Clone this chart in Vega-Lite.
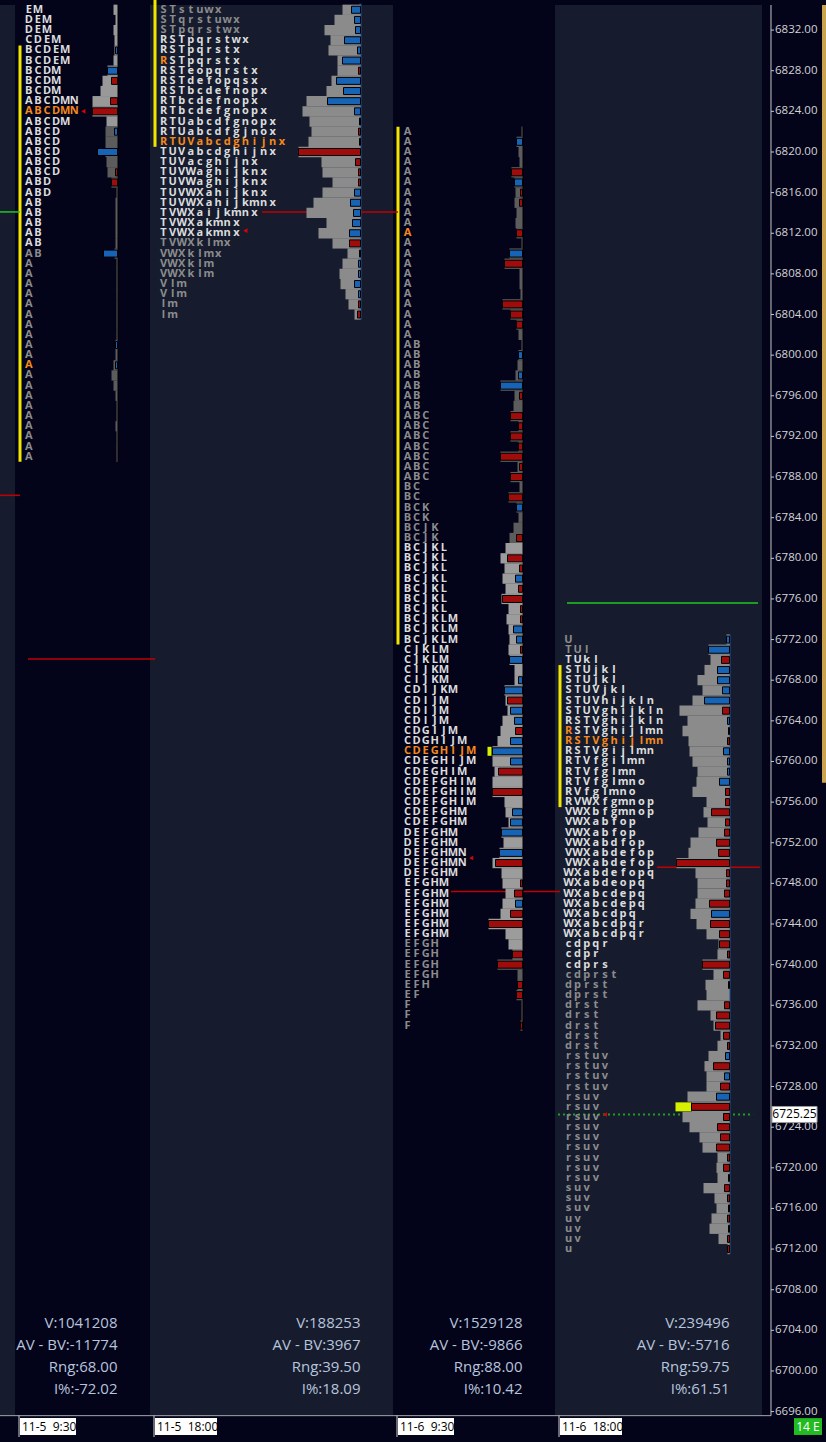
{
"$schema": "https://vega.github.io/schema/vega-lite/v6.json",
"width": 771, "height": 1442,
"autosize": {"type": "none"},
"padding": {"left": 0, "top": 0, "right": 55, "bottom": 0},
"background": "#03031a",
"config": {"view": {"stroke": null}, "font": "Open Sans"},
"datasets": {
"sessions": [
{"i":0,"j":1,"tone":"light"},
{"i":1,"j":2,"tone":"dark","lw":"short","label":"11-5\u00a0 9:30","stats":["V:1041208","AV - BV:-11774","Rng:68.00","I%:-72.02"],"vah":6830,"val":6790,"hi":6834.6,"lo":6789.5,"vh":6840,"vl":6823},
{"i":2,"j":3,"tone":"light","lw":"long","label":"11-5\u00a0 18:00","stats":["V:188253","AV - BV:3967","Rng:39.50","I%:18.09"],"vah":6836,"val":6821,"hi":6834.6,"lo":6803.5,"vh":6840,"vl":6800},
{"i":3,"j":4,"tone":"dark","lw":"short","label":"11-6\u00a0 9:30","stats":["V:1529128","AV - BV:-9866","Rng:88.00","I%:10.42"],"vah":6822,"val":6772,"hi":6822.5,"lo":6733.5,"vh":6781,"vl":6741},
{"i":4,"j":5,"tone":"light","lw":"long","label":"11-6\u00a0 18:00","stats":["V:239496","AV - BV:-5716","Rng:59.75","I%:61.51"],"vah":6769,"val":6756,"hi":6772.5,"lo":6711.5,"vh":6780,"vl":6700}
],
"ticks": [{"p":6696},{"p":6700},{"p":6704},{"p":6708},{"p":6712},{"p":6716},{"p":6720},{"p":6724},{"p":6728},{"p":6732},{"p":6736},{"p":6740},{"p":6744},{"p":6748},{"p":6752},{"p":6756},{"p":6760},{"p":6764},{"p":6768},{"p":6772},{"p":6776},{"p":6780},{"p":6784},{"p":6788},{"p":6792},{"p":6796},{"p":6800},{"p":6804},{"p":6808},{"p":6812},{"p":6816},{"p":6820},{"p":6824},{"p":6828},{"p":6832}],
"lines": [
{"p":6786.2,"x0":0,"x1":1.037,"c":"red"},
{"p":6814.1,"x0":0,"x1":1.037,"c":"green"},
{"p":6770.1,"x0":1.096,"x1":2.021,"c":"red"},
{"p":6814.1,"x0":2.461,"x1":3.031,"c":"red"},
{"p":6747.2,"x0":3.358,"x1":4.024,"c":"red"},
{"p":6749.6,"x0":4.493,"x1":4.99,"c":"red"},
{"p":6775.6,"x0":4.058,"x1":4.981,"c":"green"}
],
"last": [{"p":6725.25}],
"close": [
{"s":1,"p":6824,"c":7},
{"s":2,"p":6812.25,"c":10},
{"s":3,"p":6750.5,"c":8},
{"s":4,"p":6725.25,"c":5}
],
"vpoc": [
{"s":3,"p":6761,"v0":31,"v1":35},
{"s":4,"p":6726,"v0":38.5,"v1":54}
],
"tpo": [
{"s":1,"p":6834,"k":"hi","t":["E","M"]},
{"s":1,"p":6833,"k":"hi","t":["D","E","M"]},
{"s":1,"p":6832,"k":"hi","t":["D","E","M"]},
{"s":1,"p":6831,"k":"hi","t":["C","D","E","M"]},
{"s":1,"p":6830,"k":"hi","t":["B","C","D","E","M"]},
{"s":1,"p":6829,"k":"hi","t":["B","C","D","E","M"]},
{"s":1,"p":6828,"k":"hi","t":["B","C","D","M"]},
{"s":1,"p":6827,"k":"hi","t":["B","C","D","M"]},
{"s":1,"p":6826,"k":"hi","t":["B","C","D","M"]},
{"s":1,"p":6825,"k":"hi","t":["A","B","C","D","M","N"]},
{"s":1,"p":6824,"k":"poc","t":["A","B","C","D","M","N"]},
{"s":1,"p":6823,"k":"hi","t":["A","B","C","D","M"]},
{"s":1,"p":6822,"k":"hi","t":["A","B","C","D"]},
{"s":1,"p":6821,"k":"hi","t":["A","B","C","D"]},
{"s":1,"p":6820,"k":"hi","t":["A","B","C","D"]},
{"s":1,"p":6819,"k":"hi","t":["A","B","C","D"]},
{"s":1,"p":6818,"k":"hi","t":["A","B","C","D"]},
{"s":1,"p":6817,"k":"hi","t":["A","B","D"]},
{"s":1,"p":6816,"k":"hi","t":["A","B","D"]},
{"s":1,"p":6815,"k":"hi","t":["A","B"]},
{"s":1,"p":6814,"k":"hi","t":["A","B"]},
{"s":1,"p":6813,"k":"hi","t":["A","B"]},
{"s":1,"p":6812,"k":"hi","t":["A","B"]},
{"s":1,"p":6811,"k":"hi","t":["A","B"]},
{"s":1,"p":6810,"k":"lo","t":["A","B"]},
{"s":1,"p":6809,"k":"lo","t":["A"]},
{"s":1,"p":6808,"k":"lo","t":["A"]},
{"s":1,"p":6807,"k":"lo","t":["A"]},
{"s":1,"p":6806,"k":"lo","t":["A"]},
{"s":1,"p":6805,"k":"lo","t":["A"]},
{"s":1,"p":6804,"k":"lo","t":["A"]},
{"s":1,"p":6803,"k":"lo","t":["A"]},
{"s":1,"p":6802,"k":"lo","t":["A"]},
{"s":1,"p":6801,"k":"lo","t":["A"]},
{"s":1,"p":6800,"k":"lo","t":["A"]},
{"s":1,"p":6799,"k":"poc","t":["A"]},
{"s":1,"p":6798,"k":"lo","t":["A"]},
{"s":1,"p":6797,"k":"lo","t":["A"]},
{"s":1,"p":6796,"k":"lo","t":["A"]},
{"s":1,"p":6795,"k":"lo","t":["A"]},
{"s":1,"p":6794,"k":"lo","t":["A"]},
{"s":1,"p":6793,"k":"lo","t":["A"]},
{"s":1,"p":6792,"k":"lo","t":["A"]},
{"s":1,"p":6791,"k":"lo","t":["A"]},
{"s":1,"p":6790,"k":"lo","t":["A"]},
{"s":2,"p":6834,"k":"lo","t":["S","T","s","t","u","w","x"]},
{"s":2,"p":6833,"k":"lo","t":["S","T","q","r","s","t","u","w","x"]},
{"s":2,"p":6832,"k":"lo","t":["S","T","p","q","r","s","t","w","x"]},
{"s":2,"p":6831,"k":"hi","t":["R","S","T","p","q","r","s","t","w","x"]},
{"s":2,"p":6830,"k":"hi","t":["R","S","T","p","q","r","s","t","x"]},
{"s":2,"p":6829,"k":"op","t":["R","S","T","p","q","r","s","t","x"]},
{"s":2,"p":6828,"k":"hi","t":["R","S","T","e","o","p","q","r","s","t","x"]},
{"s":2,"p":6827,"k":"hi","t":["R","S","T","d","e","f","o","p","q","s","x"]},
{"s":2,"p":6826,"k":"hi","t":["R","S","T","b","c","d","e","f","n","o","p","x"]},
{"s":2,"p":6825,"k":"hi","t":["R","T","b","c","d","e","f","n","o","p","x"]},
{"s":2,"p":6824,"k":"hi","t":["R","T","b","c","d","e","f","g","n","o","p","x"]},
{"s":2,"p":6823,"k":"hi","t":["R","T","U","a","b","c","d","f","g","n","o","p","x"]},
{"s":2,"p":6822,"k":"hi","t":["R","T","U","a","b","c","d","f","g","j","n","o","x"]},
{"s":2,"p":6821,"k":"poc","t":["R","T","U","V","a","b","c","d","g","h","i","j","n","x"]},
{"s":2,"p":6820,"k":"hi","t":["T","U","V","a","b","c","d","g","h","i","j","n","x"]},
{"s":2,"p":6819,"k":"hi","t":["T","U","V","a","c","g","h","i","j","n","x"]},
{"s":2,"p":6818,"k":"hi","t":["T","U","V","W","a","g","h","i","j","k","n","x"]},
{"s":2,"p":6817,"k":"hi","t":["T","U","V","W","a","g","h","i","j","k","n","x"]},
{"s":2,"p":6816,"k":"hi","t":["T","U","V","W","X","a","h","i","j","k","n","x"]},
{"s":2,"p":6815,"k":"hi","t":["T","U","V","W","X","a","h","i","j","k","m","n","x"]},
{"s":2,"p":6814,"k":"hi","t":["T","V","W","X","a","i","j","k","m","n","x"]},
{"s":2,"p":6813,"k":"hi","t":["T","V","W","X","a","k","m","n","x"]},
{"s":2,"p":6812,"k":"hi","t":["T","V","W","X","a","k","m","n","x"]},
{"s":2,"p":6811,"k":"lo","t":["T","V","W","X","k","l","m","x"]},
{"s":2,"p":6810,"k":"lo","t":["V","W","X","k","l","m","x"]},
{"s":2,"p":6809,"k":"lo","t":["V","W","X","k","l","m"]},
{"s":2,"p":6808,"k":"lo","t":["V","W","X","k","l","m"]},
{"s":2,"p":6807,"k":"lo","t":["V","l","m"]},
{"s":2,"p":6806,"k":"lo","t":["V","l","m"]},
{"s":2,"p":6805,"k":"lo","t":["l","m"]},
{"s":2,"p":6804,"k":"lo","t":["l","m"]},
{"s":3,"p":6822,"k":"lo","t":["A"]},
{"s":3,"p":6821,"k":"lo","t":["A"]},
{"s":3,"p":6820,"k":"lo","t":["A"]},
{"s":3,"p":6819,"k":"lo","t":["A"]},
{"s":3,"p":6818,"k":"lo","t":["A"]},
{"s":3,"p":6817,"k":"lo","t":["A"]},
{"s":3,"p":6816,"k":"lo","t":["A"]},
{"s":3,"p":6815,"k":"lo","t":["A"]},
{"s":3,"p":6814,"k":"lo","t":["A"]},
{"s":3,"p":6813,"k":"lo","t":["A"]},
{"s":3,"p":6812,"k":"poc","t":["A"]},
{"s":3,"p":6811,"k":"lo","t":["A"]},
{"s":3,"p":6810,"k":"lo","t":["A"]},
{"s":3,"p":6809,"k":"lo","t":["A"]},
{"s":3,"p":6808,"k":"lo","t":["A"]},
{"s":3,"p":6807,"k":"lo","t":["A"]},
{"s":3,"p":6806,"k":"lo","t":["A"]},
{"s":3,"p":6805,"k":"lo","t":["A"]},
{"s":3,"p":6804,"k":"lo","t":["A"]},
{"s":3,"p":6803,"k":"lo","t":["A"]},
{"s":3,"p":6802,"k":"lo","t":["A"]},
{"s":3,"p":6801,"k":"lo","t":["A","B"]},
{"s":3,"p":6800,"k":"lo","t":["A","B"]},
{"s":3,"p":6799,"k":"lo","t":["A","B"]},
{"s":3,"p":6798,"k":"lo","t":["A","B"]},
{"s":3,"p":6797,"k":"lo","t":["A","B"]},
{"s":3,"p":6796,"k":"lo","t":["A","B"]},
{"s":3,"p":6795,"k":"lo","t":["A","B"]},
{"s":3,"p":6794,"k":"lo","t":["A","B","C"]},
{"s":3,"p":6793,"k":"lo","t":["A","B","C"]},
{"s":3,"p":6792,"k":"lo","t":["A","B","C"]},
{"s":3,"p":6791,"k":"lo","t":["A","B","C"]},
{"s":3,"p":6790,"k":"lo","t":["A","B","C"]},
{"s":3,"p":6789,"k":"lo","t":["A","B","C"]},
{"s":3,"p":6788,"k":"lo","t":["A","B","C"]},
{"s":3,"p":6787,"k":"lo","t":["B","C"]},
{"s":3,"p":6786,"k":"lo","t":["B","C"]},
{"s":3,"p":6785,"k":"lo","t":["B","C","K"]},
{"s":3,"p":6784,"k":"lo","t":["B","C","K"]},
{"s":3,"p":6783,"k":"lo","t":["B","C","J","K"]},
{"s":3,"p":6782,"k":"lo","t":["B","C","J","K"]},
{"s":3,"p":6781,"k":"hi","t":["B","C","J","K","L"]},
{"s":3,"p":6780,"k":"hi","t":["B","C","J","K","L"]},
{"s":3,"p":6779,"k":"hi","t":["B","C","J","K","L"]},
{"s":3,"p":6778,"k":"hi","t":["B","C","J","K","L"]},
{"s":3,"p":6777,"k":"hi","t":["B","C","J","K","L"]},
{"s":3,"p":6776,"k":"hi","t":["B","C","J","K","L"]},
{"s":3,"p":6775,"k":"hi","t":["B","C","J","K","L"]},
{"s":3,"p":6774,"k":"hi","t":["B","C","J","K","L","M"]},
{"s":3,"p":6773,"k":"hi","t":["B","C","J","K","L","M"]},
{"s":3,"p":6772,"k":"hi","t":["B","C","J","K","L","M"]},
{"s":3,"p":6771,"k":"hi","t":["C","J","K","L","M"]},
{"s":3,"p":6770,"k":"hi","t":["C","J","K","L","M"]},
{"s":3,"p":6769,"k":"hi","t":["C","I","J","K","M"]},
{"s":3,"p":6768,"k":"hi","t":["C","I","J","K","M"]},
{"s":3,"p":6767,"k":"hi","t":["C","D","I","J","K","M"]},
{"s":3,"p":6766,"k":"hi","t":["C","D","I","J","M"]},
{"s":3,"p":6765,"k":"hi","t":["C","D","I","J","M"]},
{"s":3,"p":6764,"k":"hi","t":["C","D","I","J","M"]},
{"s":3,"p":6763,"k":"hi","t":["C","D","G","I","J","M"]},
{"s":3,"p":6762,"k":"hi","t":["C","D","G","H","I","J","M"]},
{"s":3,"p":6761,"k":"poc","t":["C","D","E","G","H","I","J","M"]},
{"s":3,"p":6760,"k":"hi","t":["C","D","E","G","H","I","J","M"]},
{"s":3,"p":6759,"k":"hi","t":["C","D","E","G","H","I","M"]},
{"s":3,"p":6758,"k":"hi","t":["C","D","E","F","G","H","I","M"]},
{"s":3,"p":6757,"k":"hi","t":["C","D","E","F","G","H","I","M"]},
{"s":3,"p":6756,"k":"hi","t":["C","D","E","F","G","H","I","M"]},
{"s":3,"p":6755,"k":"hi","t":["C","D","E","F","G","H","M"]},
{"s":3,"p":6754,"k":"hi","t":["C","D","E","F","G","H","M"]},
{"s":3,"p":6753,"k":"hi","t":["D","E","F","G","H","M"]},
{"s":3,"p":6752,"k":"hi","t":["D","E","F","G","H","M"]},
{"s":3,"p":6751,"k":"hi","t":["D","E","F","G","H","M","N"]},
{"s":3,"p":6750,"k":"hi","t":["D","E","F","G","H","M","N"]},
{"s":3,"p":6749,"k":"hi","t":["D","E","F","G","H","M"]},
{"s":3,"p":6748,"k":"hi","t":["E","F","G","H","M"]},
{"s":3,"p":6747,"k":"hi","t":["E","F","G","H","M"]},
{"s":3,"p":6746,"k":"hi","t":["E","F","G","H","M"]},
{"s":3,"p":6745,"k":"hi","t":["E","F","G","H","M"]},
{"s":3,"p":6744,"k":"hi","t":["E","F","G","H","M"]},
{"s":3,"p":6743,"k":"hi","t":["E","F","G","H","M"]},
{"s":3,"p":6742,"k":"lo","t":["E","F","G","H"]},
{"s":3,"p":6741,"k":"lo","t":["E","F","G","H"]},
{"s":3,"p":6740,"k":"lo","t":["E","F","G","H"]},
{"s":3,"p":6739,"k":"lo","t":["E","F","G","H"]},
{"s":3,"p":6738,"k":"lo","t":["E","F","H"]},
{"s":3,"p":6737,"k":"lo","t":["E","F"]},
{"s":3,"p":6736,"k":"lo","t":["F"]},
{"s":3,"p":6735,"k":"lo","t":["F"]},
{"s":3,"p":6734,"k":"lo","t":["F"]},
{"s":4,"p":6772,"k":"lo","t":["U"]},
{"s":4,"p":6771,"k":"lo","t":["T","U","l"]},
{"s":4,"p":6770,"k":"hi","t":["T","U","k","l"]},
{"s":4,"p":6769,"k":"hi","t":["S","T","U","j","k","l"]},
{"s":4,"p":6768,"k":"hi","t":["S","T","U","j","k","l"]},
{"s":4,"p":6767,"k":"hi","t":["S","T","U","V","j","k","l"]},
{"s":4,"p":6766,"k":"hi","t":["S","T","U","V","h","i","j","k","l","n"]},
{"s":4,"p":6765,"k":"hi","t":["S","T","U","V","g","h","i","j","k","l","n"]},
{"s":4,"p":6764,"k":"hi","t":["R","S","T","V","g","h","i","j","k","l","n"]},
{"s":4,"p":6763,"k":"op","t":["R","S","T","V","g","h","i","j","l","m","n"]},
{"s":4,"p":6762,"k":"poc","t":["R","S","T","V","g","h","i","j","l","m","n"]},
{"s":4,"p":6761,"k":"hi","t":["R","S","T","V","g","i","j","l","m","n"]},
{"s":4,"p":6760,"k":"hi","t":["R","T","V","f","g","i","l","m","n"]},
{"s":4,"p":6759,"k":"hi","t":["R","T","V","f","g","l","m","n"]},
{"s":4,"p":6758,"k":"hi","t":["R","T","V","f","g","l","m","n","o"]},
{"s":4,"p":6757,"k":"hi","t":["R","V","f","g","l","m","n","o"]},
{"s":4,"p":6756,"k":"hi","t":["R","V","W","X","f","g","m","n","o","p"]},
{"s":4,"p":6755,"k":"hi","t":["V","W","X","b","f","g","m","n","o","p"]},
{"s":4,"p":6754,"k":"hi","t":["V","W","X","a","b","f","o","p"]},
{"s":4,"p":6753,"k":"hi","t":["V","W","X","a","b","f","o","p"]},
{"s":4,"p":6752,"k":"hi","t":["V","W","X","a","b","d","f","o","p"]},
{"s":4,"p":6751,"k":"hi","t":["V","W","X","a","b","d","e","f","o","p"]},
{"s":4,"p":6750,"k":"hi","t":["V","W","X","a","b","d","e","f","o","p"]},
{"s":4,"p":6749,"k":"hi","t":["W","X","a","b","d","e","f","o","p","q"]},
{"s":4,"p":6748,"k":"hi","t":["W","X","a","b","d","e","o","p","q"]},
{"s":4,"p":6747,"k":"hi","t":["W","X","a","b","c","d","e","p","q"]},
{"s":4,"p":6746,"k":"hi","t":["W","X","a","b","c","d","e","p","q"]},
{"s":4,"p":6745,"k":"hi","t":["W","X","a","b","c","d","p","q"]},
{"s":4,"p":6744,"k":"hi","t":["W","X","a","b","c","d","p","q","r"]},
{"s":4,"p":6743,"k":"hi","t":["W","X","a","b","c","d","p","q","r"]},
{"s":4,"p":6742,"k":"hi","t":["c","d","p","q","r"]},
{"s":4,"p":6741,"k":"hi","t":["c","d","p","r"]},
{"s":4,"p":6740,"k":"hi","t":["c","d","p","r","s"]},
{"s":4,"p":6739,"k":"lo","t":["c","d","p","r","s","t"]},
{"s":4,"p":6738,"k":"lo","t":["d","p","r","s","t"]},
{"s":4,"p":6737,"k":"lo","t":["d","p","r","s","t"]},
{"s":4,"p":6736,"k":"lo","t":["d","r","s","t"]},
{"s":4,"p":6735,"k":"lo","t":["d","r","s","t"]},
{"s":4,"p":6734,"k":"lo","t":["d","r","s","t"]},
{"s":4,"p":6733,"k":"lo","t":["d","r","s","t"]},
{"s":4,"p":6732,"k":"lo","t":["d","r","s","t"]},
{"s":4,"p":6731,"k":"lo","t":["r","s","t","u","v"]},
{"s":4,"p":6730,"k":"lo","t":["r","s","t","u","v"]},
{"s":4,"p":6729,"k":"lo","t":["r","s","t","u","v"]},
{"s":4,"p":6728,"k":"lo","t":["r","s","t","u","v"]},
{"s":4,"p":6727,"k":"lo","t":["r","s","u","v"]},
{"s":4,"p":6726,"k":"lo","t":["r","s","u","v"]},
{"s":4,"p":6725,"k":"lo","t":["r","s","u","v"]},
{"s":4,"p":6724,"k":"lo","t":["r","s","u","v"]},
{"s":4,"p":6723,"k":"lo","t":["r","s","u","v"]},
{"s":4,"p":6722,"k":"lo","t":["r","s","u","v"]},
{"s":4,"p":6721,"k":"lo","t":["r","s","u","v"]},
{"s":4,"p":6720,"k":"lo","t":["r","s","u","v"]},
{"s":4,"p":6719,"k":"lo","t":["r","s","u","v"]},
{"s":4,"p":6718,"k":"lo","t":["s","u","v"]},
{"s":4,"p":6717,"k":"lo","t":["s","u","v"]},
{"s":4,"p":6716,"k":"lo","t":["s","u","v"]},
{"s":4,"p":6715,"k":"lo","t":["u","v"]},
{"s":4,"p":6714,"k":"lo","t":["u","v"]},
{"s":4,"p":6713,"k":"lo","t":["u","v"]},
{"s":4,"p":6712,"k":"lo","t":["u"]}
],
"vol": [
{"s":1,"p":6834,"v":4},{"s":1,"p":6833,"v":2},{"s":1,"p":6832,"v":4},{"s":1,"p":6831,"v":3},{"s":1,"p":6830,"v":3},{"s":1,"p":6829,"v":4},{"s":1,"p":6828,"v":10},{"s":1,"p":6827,"v":15},{"s":1,"p":6826,"v":17},{"s":1,"p":6825,"v":25},{"s":1,"p":6824,"v":25},{"s":1,"p":6823,"v":11},{"s":1,"p":6822,"v":12},{"s":1,"p":6821,"v":12},{"s":1,"p":6820,"v":12},{"s":1,"p":6819,"v":11},{"s":1,"p":6818,"v":10},{"s":1,"p":6817,"v":6},{"s":1,"p":6816,"v":1},{"s":1,"p":6815,"v":2},{"s":1,"p":6814,"v":2},{"s":1,"p":6813,"v":2},{"s":1,"p":6812,"v":2},{"s":1,"p":6811,"v":2},{"s":1,"p":6810,"v":3},{"s":1,"p":6809,"v":1},{"s":1,"p":6808,"v":1},{"s":1,"p":6807,"v":1},{"s":1,"p":6806,"v":1},{"s":1,"p":6805,"v":1},{"s":1,"p":6804,"v":1},{"s":1,"p":6803,"v":1},{"s":1,"p":6802,"v":1},{"s":1,"p":6801,"v":2},{"s":1,"p":6800,"v":2},{"s":1,"p":6799,"v":4},{"s":1,"p":6798,"v":6},{"s":1,"p":6797,"v":4},{"s":1,"p":6796,"v":2},{"s":1,"p":6795,"v":1},{"s":1,"p":6794,"v":1},{"s":1,"p":6793,"v":2},{"s":1,"p":6792,"v":1},{"s":1,"p":6791,"v":1},{"s":1,"p":6790,"v":1},
{"s":2,"p":6834,"v":18},{"s":2,"p":6833,"v":26},{"s":2,"p":6832,"v":36},{"s":2,"p":6831,"v":30},{"s":2,"p":6830,"v":32},{"s":2,"p":6829,"v":23},{"s":2,"p":6828,"v":23},{"s":2,"p":6827,"v":29},{"s":2,"p":6826,"v":34},{"s":2,"p":6825,"v":54},{"s":2,"p":6824,"v":58},{"s":2,"p":6823,"v":51},{"s":2,"p":6822,"v":49},{"s":2,"p":6821,"v":52},{"s":2,"p":6820,"v":62},{"s":2,"p":6819,"v":39},{"s":2,"p":6818,"v":38},{"s":2,"p":6817,"v":28},{"s":2,"p":6816,"v":38},{"s":2,"p":6815,"v":47},{"s":2,"p":6814,"v":54},{"s":2,"p":6813,"v":34},{"s":2,"p":6812,"v":42},{"s":2,"p":6811,"v":28},{"s":2,"p":6810,"v":13},{"s":2,"p":6809,"v":18},{"s":2,"p":6808,"v":21},{"s":2,"p":6807,"v":20},{"s":2,"p":6806,"v":15},{"s":2,"p":6805,"v":12},{"s":2,"p":6804,"v":6},
{"s":3,"p":6822,"v":1},{"s":3,"p":6821,"v":6},{"s":3,"p":6820,"v":4},{"s":3,"p":6819,"v":3},{"s":3,"p":6818,"v":11},{"s":3,"p":6817,"v":8},{"s":3,"p":6816,"v":7},{"s":3,"p":6815,"v":8},{"s":3,"p":6814,"v":6},{"s":3,"p":6813,"v":7},{"s":3,"p":6812,"v":6},{"s":3,"p":6811,"v":1},{"s":3,"p":6810,"v":13},{"s":3,"p":6809,"v":18},{"s":3,"p":6808,"v":3},{"s":3,"p":6807,"v":3},{"s":3,"p":6806,"v":2},{"s":3,"p":6805,"v":20},{"s":3,"p":6804,"v":12},{"s":3,"p":6803,"v":6},{"s":3,"p":6802,"v":4},{"s":3,"p":6801,"v":1},{"s":3,"p":6800,"v":4},{"s":3,"p":6799,"v":5},{"s":3,"p":6798,"v":7},{"s":3,"p":6797,"v":22},{"s":3,"p":6796,"v":8},{"s":3,"p":6795,"v":9},{"s":3,"p":6794,"v":12},{"s":3,"p":6793,"v":4},{"s":3,"p":6792,"v":12},{"s":3,"p":6791,"v":4},{"s":3,"p":6790,"v":22},{"s":3,"p":6789,"v":5},{"s":3,"p":6788,"v":12},{"s":3,"p":6787,"v":3},{"s":3,"p":6786,"v":14},{"s":3,"p":6785,"v":6},{"s":3,"p":6784,"v":4},{"s":3,"p":6783,"v":9},{"s":3,"p":6782,"v":13},{"s":3,"p":6781,"v":17},{"s":3,"p":6780,"v":22},{"s":3,"p":6779,"v":18},{"s":3,"p":6778,"v":20},{"s":3,"p":6777,"v":17},{"s":3,"p":6776,"v":21},{"s":3,"p":6775,"v":14},{"s":3,"p":6774,"v":16},{"s":3,"p":6773,"v":14},{"s":3,"p":6772,"v":13},{"s":3,"p":6771,"v":14},{"s":3,"p":6770,"v":13},{"s":3,"p":6769,"v":8},{"s":3,"p":6768,"v":8},{"s":3,"p":6767,"v":18},{"s":3,"p":6766,"v":17},{"s":3,"p":6765,"v":15},{"s":3,"p":6764,"v":20},{"s":3,"p":6763,"v":22},{"s":3,"p":6762,"v":25},{"s":3,"p":6761,"v":30},{"s":3,"p":6760,"v":30},{"s":3,"p":6759,"v":28},{"s":3,"p":6758,"v":30},{"s":3,"p":6757,"v":30},{"s":3,"p":6756,"v":18},{"s":3,"p":6755,"v":17},{"s":3,"p":6754,"v":14},{"s":3,"p":6753,"v":21},{"s":3,"p":6752,"v":19},{"s":3,"p":6751,"v":23},{"s":3,"p":6750,"v":30},{"s":3,"p":6749,"v":21},{"s":3,"p":6748,"v":20},{"s":3,"p":6747,"v":17},{"s":3,"p":6746,"v":20},{"s":3,"p":6745,"v":22},{"s":3,"p":6744,"v":34},{"s":3,"p":6743,"v":17},{"s":3,"p":6742,"v":14},{"s":3,"p":6741,"v":10},{"s":3,"p":6740,"v":25},{"s":3,"p":6739,"v":5},{"s":3,"p":6738,"v":5},{"s":3,"p":6737,"v":6},{"s":3,"p":6736,"v":1},{"s":3,"p":6735,"v":1},{"s":3,"p":6734,"v":2},
{"s":4,"p":6772,"v":3},{"s":4,"p":6771,"v":21},{"s":4,"p":6770,"v":19},{"s":4,"p":6769,"v":25},{"s":4,"p":6768,"v":32},{"s":4,"p":6767,"v":27},{"s":4,"p":6766,"v":37},{"s":4,"p":6765,"v":50},{"s":4,"p":6764,"v":42},{"s":4,"p":6763,"v":47},{"s":4,"p":6762,"v":41},{"s":4,"p":6761,"v":40},{"s":4,"p":6760,"v":37},{"s":4,"p":6759,"v":32},{"s":4,"p":6758,"v":33},{"s":4,"p":6757,"v":37},{"s":4,"p":6756,"v":23},{"s":4,"p":6755,"v":26},{"s":4,"p":6754,"v":22},{"s":4,"p":6753,"v":31},{"s":4,"p":6752,"v":39},{"s":4,"p":6751,"v":41},{"s":4,"p":6750,"v":53},{"s":4,"p":6749,"v":34},{"s":4,"p":6748,"v":32},{"s":4,"p":6747,"v":32},{"s":4,"p":6746,"v":34},{"s":4,"p":6745,"v":39},{"s":4,"p":6744,"v":33},{"s":4,"p":6743,"v":23},{"s":4,"p":6742,"v":11},{"s":4,"p":6741,"v":12},{"s":4,"p":6740,"v":27},{"s":4,"p":6739,"v":16},{"s":4,"p":6738,"v":24},{"s":4,"p":6737,"v":23},{"s":4,"p":6736,"v":32},{"s":4,"p":6735,"v":19},{"s":4,"p":6734,"v":16},{"s":4,"p":6733,"v":9},{"s":4,"p":6732,"v":12},{"s":4,"p":6731,"v":21},{"s":4,"p":6730,"v":25},{"s":4,"p":6729,"v":23},{"s":4,"p":6728,"v":23},{"s":4,"p":6727,"v":42},{"s":4,"p":6726,"v":38},{"s":4,"p":6725,"v":47},{"s":4,"p":6724,"v":40},{"s":4,"p":6723,"v":30},{"s":4,"p":6722,"v":27},{"s":4,"p":6721,"v":12},{"s":4,"p":6720,"v":13},{"s":4,"p":6719,"v":12},{"s":4,"p":6718,"v":26},{"s":4,"p":6717,"v":15},{"s":4,"p":6716,"v":13},{"s":4,"p":6715,"v":18},{"s":4,"p":6714,"v":20},{"s":4,"p":6713,"v":11},{"s":4,"p":6712,"v":2}
],
"delta": [
{"s":1,"p":6830,"d":2,"side":"b"},{"s":1,"p":6828,"d":10,"side":"b"},{"s":1,"p":6827,"d":6,"side":"s"},{"s":1,"p":6825,"d":7,"side":"s"},{"s":1,"p":6824,"d":25,"side":"s"},{"s":1,"p":6822,"d":3,"side":"b"},{"s":1,"p":6820,"d":20,"side":"b"},{"s":1,"p":6818,"d":2,"side":"s"},{"s":1,"p":6817,"d":6,"side":"s"},{"s":1,"p":6810,"d":14,"side":"b"},{"s":1,"p":6801,"d":2,"side":"b"},{"s":1,"p":6799,"d":2,"side":"b"},
{"s":2,"p":6834,"d":9,"side":"b"},{"s":2,"p":6833,"d":6,"side":"b"},{"s":2,"p":6832,"d":5,"side":"b"},{"s":2,"p":6831,"d":16,"side":"b"},{"s":2,"p":6830,"d":3,"side":"b"},{"s":2,"p":6829,"d":18,"side":"b"},{"s":2,"p":6828,"d":2,"side":"s"},{"s":2,"p":6827,"d":24,"side":"b"},{"s":2,"p":6826,"d":17,"side":"b"},{"s":2,"p":6825,"d":33,"side":"b"},{"s":2,"p":6824,"d":6,"side":"b"},{"s":2,"p":6823,"d":1,"side":"s"},{"s":2,"p":6822,"d":2,"side":"s"},{"s":2,"p":6821,"d":1,"side":"b"},{"s":2,"p":6820,"d":62,"side":"s"},{"s":2,"p":6819,"d":5,"side":"s"},{"s":2,"p":6818,"d":2,"side":"s"},{"s":2,"p":6817,"d":2,"side":"s"},{"s":2,"p":6816,"d":6,"side":"b"},{"s":2,"p":6815,"d":10,"side":"b"},{"s":2,"p":6814,"d":7,"side":"b"},{"s":2,"p":6813,"d":8,"side":"b"},{"s":2,"p":6812,"d":11,"side":"b"},{"s":2,"p":6811,"d":11,"side":"s"},{"s":2,"p":6810,"d":1,"side":"b"},{"s":2,"p":6809,"d":2,"side":"b"},{"s":2,"p":6808,"d":2,"side":"b"},{"s":2,"p":6807,"d":6,"side":"b"},{"s":2,"p":6806,"d":2,"side":"b"},{"s":2,"p":6805,"d":2,"side":"s"},{"s":2,"p":6804,"d":3,"side":"s"},
{"s":3,"p":6821,"d":6,"side":"b"},{"s":3,"p":6818,"d":11,"side":"s"},{"s":3,"p":6817,"d":8,"side":"b"},{"s":3,"p":6816,"d":2,"side":"s"},{"s":3,"p":6815,"d":3,"side":"s"},{"s":3,"p":6812,"d":6,"side":"s"},{"s":3,"p":6810,"d":13,"side":"b"},{"s":3,"p":6809,"d":18,"side":"s"},{"s":3,"p":6805,"d":20,"side":"s"},{"s":3,"p":6804,"d":12,"side":"s"},{"s":3,"p":6803,"d":6,"side":"s"},{"s":3,"p":6800,"d":4,"side":"b"},{"s":3,"p":6798,"d":4,"side":"b"},{"s":3,"p":6797,"d":22,"side":"b"},{"s":3,"p":6796,"d":3,"side":"s"},{"s":3,"p":6794,"d":12,"side":"s"},{"s":3,"p":6793,"d":4,"side":"s"},{"s":3,"p":6792,"d":12,"side":"s"},{"s":3,"p":6791,"d":4,"side":"s"},{"s":3,"p":6790,"d":22,"side":"s"},{"s":3,"p":6789,"d":3,"side":"s"},{"s":3,"p":6788,"d":12,"side":"s"},{"s":3,"p":6786,"d":14,"side":"s"},{"s":3,"p":6785,"d":6,"side":"b"},{"s":3,"p":6782,"d":6,"side":"s"},{"s":3,"p":6780,"d":15,"side":"s"},{"s":3,"p":6779,"d":3,"side":"s"},{"s":3,"p":6778,"d":7,"side":"b"},{"s":3,"p":6777,"d":4,"side":"s"},{"s":3,"p":6776,"d":20,"side":"s"},{"s":3,"p":6775,"d":2,"side":"s"},{"s":3,"p":6774,"d":2,"side":"s"},{"s":3,"p":6773,"d":9,"side":"b"},{"s":3,"p":6772,"d":6,"side":"b"},{"s":3,"p":6771,"d":2,"side":"s"},{"s":3,"p":6770,"d":13,"side":"b"},{"s":3,"p":6768,"d":4,"side":"b"},{"s":3,"p":6767,"d":18,"side":"b"},{"s":3,"p":6766,"d":15,"side":"s"},{"s":3,"p":6765,"d":12,"side":"b"},{"s":3,"p":6764,"d":8,"side":"b"},{"s":3,"p":6763,"d":7,"side":"s"},{"s":3,"p":6762,"d":12,"side":"b"},{"s":3,"p":6761,"d":30,"side":"b"},{"s":3,"p":6760,"d":12,"side":"b"},{"s":3,"p":6759,"d":24,"side":"s"},{"s":3,"p":6757,"d":30,"side":"s"},{"s":3,"p":6755,"d":10,"side":"b"},{"s":3,"p":6754,"d":12,"side":"b"},{"s":3,"p":6753,"d":21,"side":"b"},{"s":3,"p":6751,"d":23,"side":"b"},{"s":3,"p":6750,"d":27,"side":"s"},{"s":3,"p":6748,"d":2,"side":"s"},{"s":3,"p":6747,"d":8,"side":"s"},{"s":3,"p":6746,"d":7,"side":"b"},{"s":3,"p":6745,"d":12,"side":"s"},{"s":3,"p":6744,"d":34,"side":"s"},{"s":3,"p":6741,"d":10,"side":"s"},{"s":3,"p":6740,"d":25,"side":"s"},{"s":3,"p":6738,"d":5,"side":"s"},{"s":3,"p":6737,"d":6,"side":"s"},{"s":3,"p":6734,"d":2,"side":"s"},
{"s":4,"p":6772,"d":3,"side":"b"},{"s":4,"p":6771,"d":21,"side":"b"},{"s":4,"p":6770,"d":8,"side":"s"},{"s":4,"p":6769,"d":12,"side":"b"},{"s":4,"p":6768,"d":12,"side":"b"},{"s":4,"p":6767,"d":7,"side":"b"},{"s":4,"p":6766,"d":25,"side":"b"},{"s":4,"p":6765,"d":7,"side":"s"},{"s":4,"p":6764,"d":2,"side":"b"},{"s":4,"p":6763,"d":1,"side":"b"},{"s":4,"p":6762,"d":2,"side":"s"},{"s":4,"p":6761,"d":6,"side":"b"},{"s":4,"p":6760,"d":2,"side":"b"},{"s":4,"p":6759,"d":2,"side":"b"},{"s":4,"p":6758,"d":10,"side":"b"},{"s":4,"p":6757,"d":4,"side":"s"},{"s":4,"p":6756,"d":4,"side":"s"},{"s":4,"p":6755,"d":18,"side":"s"},{"s":4,"p":6754,"d":4,"side":"s"},{"s":4,"p":6753,"d":5,"side":"s"},{"s":4,"p":6752,"d":13,"side":"s"},{"s":4,"p":6751,"d":11,"side":"s"},{"s":4,"p":6750,"d":53,"side":"s"},{"s":4,"p":6749,"d":3,"side":"s"},{"s":4,"p":6748,"d":3,"side":"s"},{"s":4,"p":6747,"d":5,"side":"s"},{"s":4,"p":6746,"d":20,"side":"s"},{"s":4,"p":6745,"d":18,"side":"b"},{"s":4,"p":6744,"d":19,"side":"s"},{"s":4,"p":6743,"d":10,"side":"s"},{"s":4,"p":6742,"d":10,"side":"s"},{"s":4,"p":6741,"d":2,"side":"s"},{"s":4,"p":6740,"d":27,"side":"s"},{"s":4,"p":6739,"d":6,"side":"s"},{"s":4,"p":6738,"d":1,"side":"b"},{"s":4,"p":6736,"d":5,"side":"s"},{"s":4,"p":6735,"d":13,"side":"s"},{"s":4,"p":6734,"d":14,"side":"s"},{"s":4,"p":6733,"d":6,"side":"s"},{"s":4,"p":6732,"d":2,"side":"s"},{"s":4,"p":6731,"d":4,"side":"b"},{"s":4,"p":6730,"d":16,"side":"s"},{"s":4,"p":6729,"d":5,"side":"b"},{"s":4,"p":6728,"d":9,"side":"s"},{"s":4,"p":6727,"d":13,"side":"b"},{"s":4,"p":6726,"d":38,"side":"s"},{"s":4,"p":6725,"d":6,"side":"s"},{"s":4,"p":6724,"d":12,"side":"s"},{"s":4,"p":6723,"d":9,"side":"s"},{"s":4,"p":6722,"d":13,"side":"s"},{"s":4,"p":6721,"d":2,"side":"s"},{"s":4,"p":6720,"d":6,"side":"s"},{"s":4,"p":6719,"d":1,"side":"b"},{"s":4,"p":6718,"d":5,"side":"s"},{"s":4,"p":6717,"d":2,"side":"s"},{"s":4,"p":6716,"d":1,"side":"b"},{"s":4,"p":6715,"d":2,"side":"s"},{"s":4,"p":6714,"d":1,"side":"b"},{"s":4,"p":6713,"d":2,"side":"s"},{"s":4,"p":6712,"d":2,"side":"s"}
]
},
"resolve": {"scale": {"x": "independent"}},
"layer": [
{"layer": [
{"data": {"name": "sessions"}, "mark": {"type": "rect"},
 "encoding": {"x": {"field": "i", "type": "quantitative", "scale": {"domain": [0,1,2,3,4,5,6], "range": [0,15,150,393,555,762,826], "nice": false, "zero": false}, "axis": null}, "x2": {"field": "j"},
  "y": {"datum": 6834.47, "type": "quantitative", "scale": {"domain": [6693.5, 6834.47], "nice": false, "zero": false}, "axis": null}, "y2": {"datum": 6695.65},
  "color": {"condition": {"test": "datum.tone === 'light'", "value": "#161c2e"}, "value": "#03031a"}}},
{"data": {"values": [{}]}, "mark": {"type": "rect", "color": "#c9a34e"},
 "encoding": {"x": {"datum": 5.9375, "type": "quantitative", "scale": {"domain": [0,1,2,3,4,5,6], "range": [0,15,150,393,555,762,826], "nice": false, "zero": false}, "axis": null}, "x2": {"datum": 6},
  "y": {"datum": 6834.47, "type": "quantitative", "scale": {"domain": [6693.5, 6834.47], "nice": false, "zero": false}, "axis": null}, "y2": {"datum": 6757.9}}},
{"data": {"values": [{}]}, "mark": {"type": "rule", "color": "#a8a8b0", "strokeWidth": 1},
 "encoding": {"x": {"datum": 0, "type": "quantitative", "scale": {"domain": [0,1,2,3,4,5,6], "range": [0,15,150,393,555,762,826], "nice": false, "zero": false}, "axis": null}, "x2": {"datum": 5.1406},
  "y": {"datum": 6695.6, "type": "quantitative", "scale": {"domain": [6693.5, 6834.47], "nice": false, "zero": false}, "axis": null}}},
{"data": {"values": [{}]}, "mark": {"type": "rule", "color": "#c8c8c8", "strokeWidth": 1},
 "encoding": {"x": {"datum": 5.1406, "type": "quantitative", "scale": {"domain": [0,1,2,3,4,5,6], "range": [0,15,150,393,555,762,826], "nice": false, "zero": false}, "axis": null},
  "y": {"datum": 6834.47, "type": "quantitative", "scale": {"domain": [6693.5, 6834.47], "nice": false, "zero": false}, "axis": null}, "y2": {"datum": 6695.6}}},
{"data": {"name": "ticks"}, "mark": {"type": "rule", "color": "#c8c8c8", "strokeWidth": 1, "x2Offset": 3},
 "encoding": {"x": {"datum": 5.1406, "type": "quantitative", "scale": {"domain": [0,1,2,3,4,5,6], "range": [0,15,150,393,555,762,826], "nice": false, "zero": false}, "axis": null}, "x2": {"datum": 5.1406},
  "y": {"field": "p", "type": "quantitative", "scale": {"domain": [6693.5, 6834.47], "nice": false, "zero": false}, "axis": null}}},
{"data": {"name": "ticks"}, "mark": {"type": "text", "align": "left", "baseline": "middle", "fontSize": 11.5, "color": "#d4d4d4", "xOffset": 4},
 "encoding": {"x": {"datum": 5.1406, "type": "quantitative", "scale": {"domain": [0,1,2,3,4,5,6], "range": [0,15,150,393,555,762,826], "nice": false, "zero": false}, "axis": null},
  "y": {"field": "p", "type": "quantitative", "scale": {"domain": [6693.5, 6834.47], "nice": false, "zero": false}, "axis": null},
  "text": {"field": "p", "type": "quantitative", "format": ".2f"}}},
{"data": {"name": "sessions"}, "transform": [{"filter": "datum.i >= 1 && datum.i <= 4"}], "mark": {"type": "rule", "color": "#d0d0d0", "strokeWidth": 1, "xOffset": 4},
 "encoding": {"x": {"field": "i", "type": "quantitative", "scale": {"domain": [0,1,2,3,4,5,6], "range": [0,15,150,393,555,762,826], "nice": false, "zero": false}, "axis": null},
  "y": {"datum": 6695.6, "type": "quantitative", "scale": {"domain": [6693.5, 6834.47], "nice": false, "zero": false}, "axis": null}, "y2": {"datum": 6693.5}}},
{"data": {"name": "sessions"}, "transform": [{"filter": "isValid(datum.vah)"}], "mark": {"type": "rule", "color": "#f2e600", "strokeWidth": 3, "xOffset": 5, "yOffset": -5, "y2Offset": 5},
 "encoding": {"x": {"field": "i", "type": "quantitative", "scale": {"domain": [0,1,2,3,4,5,6], "range": [0,15,150,393,555,762,826], "nice": false, "zero": false}, "axis": null},
  "y": {"field": "vah", "type": "quantitative", "scale": {"domain": [6693.5, 6834.47], "nice": false, "zero": false}, "axis": null}, "y2": {"field": "val"}}},
{"data": {"name": "lines"}, "mark": {"type": "rule", "strokeWidth": 1.5},
 "encoding": {"x": {"field": "x0", "type": "quantitative", "scale": {"domain": [0,1,2,3,4,5,6], "range": [0,15,150,393,555,762,826], "nice": false, "zero": false}, "axis": null}, "x2": {"field": "x1"},
  "y": {"field": "p", "type": "quantitative", "scale": {"domain": [6693.5, 6834.47], "nice": false, "zero": false}, "axis": null},
  "color": {"condition": {"test": "datum.c === 'green'", "value": "#1fc81f"}, "value": "#c00000"}}},
{"data": {"name": "last"}, "mark": {"type": "rule", "strokeWidth": 2, "strokeDash": [2, 3], "color": "#1e9e1e"},
 "encoding": {"x": {"datum": 4.0145, "type": "quantitative", "scale": {"domain": [0,1,2,3,4,5,6], "range": [0,15,150,393,555,762,826], "nice": false, "zero": false}, "axis": null}, "x2": {"datum": 4.957},
  "y": {"field": "p", "type": "quantitative", "scale": {"domain": [6693.5, 6834.47], "nice": false, "zero": false}, "axis": null}}},
{"data": {"name": "sessions"}, "transform": [{"filter": "isValid(datum.hi)"}], "mark": {"type": "rule", "strokeWidth": 2, "xOffset": -32.5},
 "encoding": {"x": {"field": "j", "type": "quantitative", "scale": {"domain": [0,1,2,3,4,5,6], "range": [0,15,150,393,555,762,826], "nice": false, "zero": false}, "axis": null},
  "y": {"field": "hi", "type": "quantitative", "scale": {"domain": [6693.5, 6834.47], "nice": false, "zero": false}, "axis": null}, "y2": {"field": "lo"},
  "color": {"condition": {"test": "datum.tone === 'light'", "value": "#1d4f96"}, "value": "#000000"}}},
{"data": {"name": "sessions"}, "transform": [{"filter": "datum.lw === 'short'"}], "mark": {"type": "rect", "color": "#ffffff", "xOffset": 5, "x2Offset": 61},
 "encoding": {"x": {"field": "i", "type": "quantitative", "scale": {"domain": [0,1,2,3,4,5,6], "range": [0,15,150,393,555,762,826], "nice": false, "zero": false}, "axis": null}, "x2": {"field": "i"},
  "y": {"datum": 6695.36, "type": "quantitative", "scale": {"domain": [6693.5, 6834.47], "nice": false, "zero": false}, "axis": null}, "y2": {"datum": 6693.7}}},
{"data": {"name": "sessions"}, "transform": [{"filter": "datum.lw === 'long'"}], "mark": {"type": "rect", "color": "#ffffff", "xOffset": 5, "x2Offset": 67},
 "encoding": {"x": {"field": "i", "type": "quantitative", "scale": {"domain": [0,1,2,3,4,5,6], "range": [0,15,150,393,555,762,826], "nice": false, "zero": false}, "axis": null}, "x2": {"field": "i"},
  "y": {"datum": 6695.36, "type": "quantitative", "scale": {"domain": [6693.5, 6834.47], "nice": false, "zero": false}, "axis": null}, "y2": {"datum": 6693.7}}},
{"data": {"name": "sessions"}, "transform": [{"filter": "isValid(datum.label)"}], "mark": {"type": "text", "align": "left", "baseline": "middle", "fontSize": 12, "color": "#000000", "xOffset": 7},
 "encoding": {"x": {"field": "i", "type": "quantitative", "scale": {"domain": [0,1,2,3,4,5,6], "range": [0,15,150,393,555,762,826], "nice": false, "zero": false}, "axis": null},
  "y": {"datum": 6694.53, "type": "quantitative", "scale": {"domain": [6693.5, 6834.47], "nice": false, "zero": false}, "axis": null},
  "text": {"field": "label", "type": "nominal"}}},
{"data": {"name": "sessions"}, "transform": [{"filter": "isValid(datum.stats)"}], "mark": {"type": "text", "align": "right", "baseline": "middle", "fontSize": 15, "lineHeight": 22, "color": "#b7c4dc", "xOffset": -32.5},
 "encoding": {"x": {"field": "j", "type": "quantitative", "scale": {"domain": [0,1,2,3,4,5,6], "range": [0,15,150,393,555,762,826], "nice": false, "zero": false}, "axis": null},
  "y": {"datum": 6704.74, "type": "quantitative", "scale": {"domain": [6693.5, 6834.47], "nice": false, "zero": false}, "axis": null},
  "text": {"field": "stats", "type": "nominal"}}},
{"data": {"name": "last"}, "mark": {"type": "bar", "orient": "horizontal", "size": 16, "color": "#ffffff", "stroke": "#9a9a9a", "strokeWidth": 1},
 "encoding": {"x": {"datum": 5.156, "type": "quantitative", "scale": {"domain": [0,1,2,3,4,5,6], "range": [0,15,150,393,555,762,826], "nice": false, "zero": false}, "axis": null}, "x2": {"datum": 5.86},
  "y": {"field": "p", "type": "quantitative", "scale": {"domain": [6693.5, 6834.47], "nice": false, "zero": false}, "axis": null}}},
{"data": {"name": "last"}, "mark": {"type": "text", "align": "center", "baseline": "middle", "fontSize": 12, "color": "#000000"},
 "encoding": {"x": {"datum": 5.508, "type": "quantitative", "scale": {"domain": [0,1,2,3,4,5,6], "range": [0,15,150,393,555,762,826], "nice": false, "zero": false}, "axis": null},
  "y": {"field": "p", "type": "quantitative", "scale": {"domain": [6693.5, 6834.47], "nice": false, "zero": false}, "axis": null},
  "text": {"field": "p", "type": "quantitative", "format": ".2f"}}},
{"data": {"values": [{}]}, "mark": {"type": "rect", "color": "#22bb22"},
 "encoding": {"x": {"datum": 5.5, "type": "quantitative", "scale": {"domain": [0,1,2,3,4,5,6], "range": [0,15,150,393,555,762,826], "nice": false, "zero": false}, "axis": null}, "x2": {"datum": 5.9375},
  "y": {"datum": 6695.36, "type": "quantitative", "scale": {"domain": [6693.5, 6834.47], "nice": false, "zero": false}, "axis": null}, "y2": {"datum": 6693.7}}},
{"data": {"values": [{}]}, "mark": {"type": "text", "align": "center", "baseline": "middle", "fontSize": 12, "color": "#ffffff"},
 "encoding": {"x": {"datum": 5.71875, "type": "quantitative", "scale": {"domain": [0,1,2,3,4,5,6], "range": [0,15,150,393,555,762,826], "nice": false, "zero": false}, "axis": null},
  "y": {"datum": 6694.53, "type": "quantitative", "scale": {"domain": [6693.5, 6834.47], "nice": false, "zero": false}, "axis": null},
  "text": {"value": "14 E"}}}
]},
{"layer": [
{"data": {"name": "vol"}, "transform": [{"filter": "datum.s === 1"}, {"lookup": "s", "from": {"data": {"name": "sessions"}, "key": "i", "fields": ["vh", "vl"]}}], "mark": {"type": "bar", "orient": "horizontal", "size": 10.3, "xOffset": 117.5, "x2Offset": 117.5},
 "encoding": {"x": {"field": "v", "type": "quantitative", "scale": {"domain": [0, 100], "range": [0, -100], "nice": false, "zero": false}, "axis": null}, "x2": {"datum": 0},
  "y": {"field": "p", "type": "quantitative", "scale": {"domain": [6693.5, 6834.47], "nice": false, "zero": false}, "axis": null},
  "color": {"condition": {"test": "datum.p > datum.vh || datum.p < datum.vl", "value": "#5c5c5c"}, "value": "#999999"}}},
{"data": {"name": "vol"}, "transform": [{"filter": "datum.s === 2"}, {"lookup": "s", "from": {"data": {"name": "sessions"}, "key": "i", "fields": ["vh", "vl"]}}], "mark": {"type": "bar", "orient": "horizontal", "size": 10.3, "xOffset": 360.5, "x2Offset": 360.5},
 "encoding": {"x": {"field": "v", "type": "quantitative", "scale": {"domain": [0, 100], "range": [0, -100], "nice": false, "zero": false}, "axis": null}, "x2": {"datum": 0},
  "y": {"field": "p", "type": "quantitative", "scale": {"domain": [6693.5, 6834.47], "nice": false, "zero": false}, "axis": null},
  "color": {"condition": {"test": "datum.p > datum.vh || datum.p < datum.vl", "value": "#5c5c5c"}, "value": "#8b8b8b"}}},
{"data": {"name": "vol"}, "transform": [{"filter": "datum.s === 3"}, {"lookup": "s", "from": {"data": {"name": "sessions"}, "key": "i", "fields": ["vh", "vl"]}}], "mark": {"type": "bar", "orient": "horizontal", "size": 10.3, "xOffset": 522.5, "x2Offset": 522.5},
 "encoding": {"x": {"field": "v", "type": "quantitative", "scale": {"domain": [0, 100], "range": [0, -100], "nice": false, "zero": false}, "axis": null}, "x2": {"datum": 0},
  "y": {"field": "p", "type": "quantitative", "scale": {"domain": [6693.5, 6834.47], "nice": false, "zero": false}, "axis": null},
  "color": {"condition": {"test": "datum.p > datum.vh || datum.p < datum.vl", "value": "#5c5c5c"}, "value": "#9c9c9c"}}},
{"data": {"name": "vol"}, "transform": [{"filter": "datum.s === 4"}, {"lookup": "s", "from": {"data": {"name": "sessions"}, "key": "i", "fields": ["vh", "vl"]}}], "mark": {"type": "bar", "orient": "horizontal", "size": 10.3, "xOffset": 729.5, "x2Offset": 729.5},
 "encoding": {"x": {"field": "v", "type": "quantitative", "scale": {"domain": [0, 100], "range": [0, -100], "nice": false, "zero": false}, "axis": null}, "x2": {"datum": 0},
  "y": {"field": "p", "type": "quantitative", "scale": {"domain": [6693.5, 6834.47], "nice": false, "zero": false}, "axis": null},
  "color": {"condition": {"test": "datum.p > datum.vh || datum.p < datum.vl", "value": "#5c5c5c"}, "value": "#8b8b8b"}}},
{"data": {"name": "delta"}, "transform": [{"filter": "datum.s === 1"}], "mark": {"type": "bar", "orient": "horizontal", "size": 7, "stroke": "#000000", "strokeWidth": 1, "xOffset": 117.5, "x2Offset": 117.5},
 "encoding": {"x": {"field": "d", "type": "quantitative", "scale": {"domain": [0, 100], "range": [0, -100], "nice": false, "zero": false}, "axis": null}, "x2": {"datum": 0},
  "y": {"field": "p", "type": "quantitative", "scale": {"domain": [6693.5, 6834.47], "nice": false, "zero": false}, "axis": null},
  "color": {"condition": {"test": "datum.side === 'b'", "value": "#1763b5"}, "value": "#a00c0c"}}},
{"data": {"name": "delta"}, "transform": [{"filter": "datum.s === 2"}], "mark": {"type": "bar", "orient": "horizontal", "size": 7, "stroke": "#000000", "strokeWidth": 1, "xOffset": 360.5, "x2Offset": 360.5},
 "encoding": {"x": {"field": "d", "type": "quantitative", "scale": {"domain": [0, 100], "range": [0, -100], "nice": false, "zero": false}, "axis": null}, "x2": {"datum": 0},
  "y": {"field": "p", "type": "quantitative", "scale": {"domain": [6693.5, 6834.47], "nice": false, "zero": false}, "axis": null},
  "color": {"condition": {"test": "datum.side === 'b'", "value": "#1763b5"}, "value": "#a00c0c"}}},
{"data": {"name": "delta"}, "transform": [{"filter": "datum.s === 3"}], "mark": {"type": "bar", "orient": "horizontal", "size": 7, "stroke": "#000000", "strokeWidth": 1, "xOffset": 522.5, "x2Offset": 522.5},
 "encoding": {"x": {"field": "d", "type": "quantitative", "scale": {"domain": [0, 100], "range": [0, -100], "nice": false, "zero": false}, "axis": null}, "x2": {"datum": 0},
  "y": {"field": "p", "type": "quantitative", "scale": {"domain": [6693.5, 6834.47], "nice": false, "zero": false}, "axis": null},
  "color": {"condition": {"test": "datum.side === 'b'", "value": "#1763b5"}, "value": "#a00c0c"}}},
{"data": {"name": "delta"}, "transform": [{"filter": "datum.s === 4"}], "mark": {"type": "bar", "orient": "horizontal", "size": 7, "stroke": "#000000", "strokeWidth": 1, "xOffset": 729.5, "x2Offset": 729.5},
 "encoding": {"x": {"field": "d", "type": "quantitative", "scale": {"domain": [0, 100], "range": [0, -100], "nice": false, "zero": false}, "axis": null}, "x2": {"datum": 0},
  "y": {"field": "p", "type": "quantitative", "scale": {"domain": [6693.5, 6834.47], "nice": false, "zero": false}, "axis": null},
  "color": {"condition": {"test": "datum.side === 'b'", "value": "#1763b5"}, "value": "#a00c0c"}}},
{"data": {"name": "vpoc"}, "transform": [{"filter": "datum.s === 3"}], "mark": {"type": "bar", "orient": "horizontal", "size": 9, "color": "#d6f000", "xOffset": 522.5, "x2Offset": 522.5},
 "encoding": {"x": {"field": "v0", "type": "quantitative", "scale": {"domain": [0, 100], "range": [0, -100], "nice": false, "zero": false}, "axis": null}, "x2": {"field": "v1"},
  "y": {"field": "p", "type": "quantitative", "scale": {"domain": [6693.5, 6834.47], "nice": false, "zero": false}, "axis": null}}},
{"data": {"name": "vpoc"}, "transform": [{"filter": "datum.s === 4"}], "mark": {"type": "bar", "orient": "horizontal", "size": 9, "color": "#d6f000", "xOffset": 729.5, "x2Offset": 729.5},
 "encoding": {"x": {"field": "v0", "type": "quantitative", "scale": {"domain": [0, 100], "range": [0, -100], "nice": false, "zero": false}, "axis": null}, "x2": {"field": "v1"},
  "y": {"field": "p", "type": "quantitative", "scale": {"domain": [6693.5, 6834.47], "nice": false, "zero": false}, "axis": null}}}
]},
{"layer": [
{"data": {"name": "tpo"}, "transform": [{"filter": "datum.s === 1"}, {"flatten": ["t"]}, {"window": [{"op": "row_number", "as": "c"}], "groupby": ["p"], "sort": [{"field": "t", "order": "ascending"}]}],
 "mark": {"type": "text", "xOffset": 19.7, "fontSize": 11, "fontWeight": "bold", "font": "Open Sans", "align": "center", "baseline": "middle"},
 "encoding": {"x": {"field": "c", "type": "quantitative", "scale": {"domain": [0, 1], "range": [0, 9.1], "nice": false, "zero": false}, "axis": null},
  "y": {"field": "p", "type": "quantitative", "scale": {"domain": [6693.5, 6834.47], "nice": false, "zero": false}, "axis": null},
  "text": {"field": "t", "type": "nominal"},
  "color": {"condition": [{"test": "datum.k === 'poc' || (datum.k === 'op' && datum.c === 1)", "value": "#f5891a"}, {"test": "datum.k === 'lo'", "value": "#8c8c8c"}], "value": "#dcdcdc"}}},
{"data": {"name": "tpo"}, "transform": [{"filter": "datum.s === 2"}, {"flatten": ["t"]}, {"window": [{"op": "row_number", "as": "c"}], "groupby": ["p"], "sort": [{"field": "t", "order": "ascending"}]}],
 "mark": {"type": "text", "xOffset": 154.4, "fontSize": 11, "fontWeight": "bold", "font": "Open Sans", "align": "center", "baseline": "middle"},
 "encoding": {"x": {"field": "c", "type": "quantitative", "scale": {"domain": [0, 1], "range": [0, 9.1], "nice": false, "zero": false}, "axis": null},
  "y": {"field": "p", "type": "quantitative", "scale": {"domain": [6693.5, 6834.47], "nice": false, "zero": false}, "axis": null},
  "text": {"field": "t", "type": "nominal"},
  "color": {"condition": [{"test": "datum.k === 'poc' || (datum.k === 'op' && datum.c === 1)", "value": "#f5891a"}, {"test": "datum.k === 'lo'", "value": "#8c8c8c"}], "value": "#dcdcdc"}}},
{"data": {"name": "tpo"}, "transform": [{"filter": "datum.s === 3"}, {"flatten": ["t"]}, {"window": [{"op": "row_number", "as": "c"}], "groupby": ["p"], "sort": [{"field": "t", "order": "ascending"}]}],
 "mark": {"type": "text", "xOffset": 398.4, "fontSize": 11, "fontWeight": "bold", "font": "Open Sans", "align": "center", "baseline": "middle"},
 "encoding": {"x": {"field": "c", "type": "quantitative", "scale": {"domain": [0, 1], "range": [0, 9.1], "nice": false, "zero": false}, "axis": null},
  "y": {"field": "p", "type": "quantitative", "scale": {"domain": [6693.5, 6834.47], "nice": false, "zero": false}, "axis": null},
  "text": {"field": "t", "type": "nominal"},
  "color": {"condition": [{"test": "datum.k === 'poc' || (datum.k === 'op' && datum.c === 1)", "value": "#f5891a"}, {"test": "datum.k === 'lo'", "value": "#8c8c8c"}], "value": "#dcdcdc"}}},
{"data": {"name": "tpo"}, "transform": [{"filter": "datum.s === 4"}, {"flatten": ["t"]}, {"window": [{"op": "row_number", "as": "c"}], "groupby": ["p"], "sort": [{"field": "t", "order": "ascending"}]}],
 "mark": {"type": "text", "xOffset": 559.4, "fontSize": 11, "fontWeight": "bold", "font": "Open Sans", "align": "center", "baseline": "middle"},
 "encoding": {"x": {"field": "c", "type": "quantitative", "scale": {"domain": [0, 1], "range": [0, 9.1], "nice": false, "zero": false}, "axis": null},
  "y": {"field": "p", "type": "quantitative", "scale": {"domain": [6693.5, 6834.47], "nice": false, "zero": false}, "axis": null},
  "text": {"field": "t", "type": "nominal"},
  "color": {"condition": [{"test": "datum.k === 'poc' || (datum.k === 'op' && datum.c === 1)", "value": "#f5891a"}, {"test": "datum.k === 'lo'", "value": "#8c8c8c"}], "value": "#dcdcdc"}}},
{"data": {"name": "close"}, "transform": [{"filter": "datum.s === 1"}], "mark": {"type": "point", "shape": "triangle-left", "filled": true, "size": 22, "color": "#e00000", "opacity": 1, "xOffset": 19.7},
 "encoding": {"x": {"field": "c", "type": "quantitative", "scale": {"domain": [0, 1], "range": [0, 9.1], "nice": false, "zero": false}, "axis": null},
  "y": {"field": "p", "type": "quantitative", "scale": {"domain": [6693.5, 6834.47], "nice": false, "zero": false}, "axis": null}}},
{"data": {"name": "close"}, "transform": [{"filter": "datum.s === 2"}], "mark": {"type": "point", "shape": "triangle-left", "filled": true, "size": 22, "color": "#e00000", "opacity": 1, "xOffset": 154.4},
 "encoding": {"x": {"field": "c", "type": "quantitative", "scale": {"domain": [0, 1], "range": [0, 9.1], "nice": false, "zero": false}, "axis": null},
  "y": {"field": "p", "type": "quantitative", "scale": {"domain": [6693.5, 6834.47], "nice": false, "zero": false}, "axis": null}}},
{"data": {"name": "close"}, "transform": [{"filter": "datum.s === 3"}], "mark": {"type": "point", "shape": "triangle-left", "filled": true, "size": 22, "color": "#e00000", "opacity": 1, "xOffset": 398.4},
 "encoding": {"x": {"field": "c", "type": "quantitative", "scale": {"domain": [0, 1], "range": [0, 9.1], "nice": false, "zero": false}, "axis": null},
  "y": {"field": "p", "type": "quantitative", "scale": {"domain": [6693.5, 6834.47], "nice": false, "zero": false}, "axis": null}}},
{"data": {"name": "close"}, "transform": [{"filter": "datum.s === 4"}], "mark": {"type": "point", "shape": "triangle-left", "filled": true, "size": 22, "color": "#e00000", "opacity": 1, "xOffset": 559.4},
 "encoding": {"x": {"field": "c", "type": "quantitative", "scale": {"domain": [0, 1], "range": [0, 9.1], "nice": false, "zero": false}, "axis": null},
  "y": {"field": "p", "type": "quantitative", "scale": {"domain": [6693.5, 6834.47], "nice": false, "zero": false}, "axis": null}}}
]}
]
}
